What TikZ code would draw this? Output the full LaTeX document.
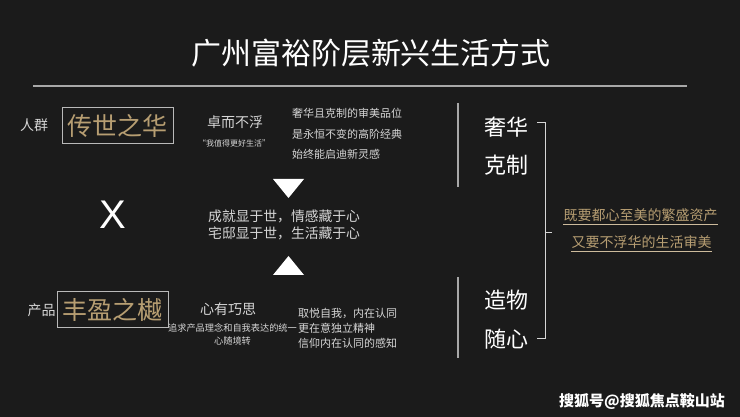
\documentclass[tikz,border=0pt]{standalone}
\usepackage{fontspec}
\setmainfont{Noto Sans CJK SC}
\definecolor{bg}{HTML}{1B1B1B}
\definecolor{gold}{HTML}{B79E72}
\definecolor{soft}{HTML}{D6D6D6}
\definecolor{linegray}{HTML}{A8A8A8}
\newcommand{\fsz}[1]{\fontsize{#1pt}{#1pt}\selectfont}
\tikzset{
  txt/.style={inner sep=0pt, text=soft},
  lbl/.style={txt, font=\fsz{14}},
  small/.style={txt, font=\fsz{11}},
  big/.style={txt, text=white, font=\fsz{22}},
  goldbox/.style={draw=linegray!80, line width=1pt, text=gold, font=\fsz{25}, minimum width=111pt, minimum height=36pt, inner sep=0pt},
  goldtxt/.style={inner sep=0pt, text=gold, font=\fsz{14}},
  uline/.style={draw=gold!70, line width=0.8pt},
  rule/.style={draw=linegray, line width=1.2pt},
}
\begin{document}
\begin{tikzpicture}[x=1pt,y=-1pt]
\fill[bg] (0,0) rectangle (740,417);
\useasboundingbox (0,0) rectangle (740,417);
% title
\node[txt, text=white, font=\fsz{30}] (title) at (371,53) {广州富裕阶层新兴生活方式};
\coordinate (hl) at (33,86);
\coordinate (hr) at (687,86);
\draw[rule] (hl) -- (hr);
% top left group
\node[lbl] (renqun) at (34,125) {人群};
\node[goldbox] (box1) at (117.5,125.5) {传世之华};
\node[lbl] (zhuo) at (235,122) {卓而不浮};
\node[txt, font=\fsz{8}] (quote1) at (234,143) {“我值得更好生活”};
\node[small, anchor=west] (t1) at (292,113) {奢华且克制的审美品位};
\node[small, anchor=west] (t2) at (292,134) {是永恒不变的高阶经典};
\node[small, anchor=west] (t3) at (292,154) {始终能启迪新灵感};
% X
\node[txt, text=white, font=\fontspec{Liberation Sans}\fsz{40}] (cross) at (113,215) {X};
% triangles
\fill[white] (273,179) -- (304,179) -- (288.5,198) -- cycle;
\fill[white] (273,275) -- (304,275) -- (288.5,256) -- cycle;
\node[lbl, anchor=west, font=\fsz{13.8}] (m1) at (208,216) {成就显于世，情感藏于心};
\node[lbl, anchor=west, font=\fsz{13.8}] (m2) at (208,233) {宅邸显于世，生活藏于心};
% bottom left group
\node[lbl] (chanpin) at (41.5,310) {产品};
\node[goldbox] (box2) at (112.5,309.5) {丰盈之樾};
\node[lbl] (xin) at (228,309) {心有巧思};
\node[txt, font=\fsz{9.2}] (b1) at (232.5,328) {追求产品理念和自我表达的统一};
\node[txt, font=\fsz{9.2}] (b2) at (232.5,341) {心随境转};
\node[small, anchor=west] (r1) at (298,313) {取悦自我，内在认同};
\node[small, anchor=west] (r2) at (298,328) {更在意独立精神};
\node[small, anchor=west] (r3) at (298,343) {信仰内在认同的感知};
% right side
\coordinate (v1a) at (458,103);
\coordinate (v1b) at (458,187);
\coordinate (v2a) at (458,277);
\coordinate (v2b) at (458,358);
\draw[rule, line width=1.5pt] (v1a) -- (v1b);
\draw[rule, line width=1.5pt] (v2a) -- (v2b);
\node[big] (she) at (506,127) {奢华};
\node[big] (ke) at (506,165) {克制};
\node[big] (zao) at (506,300) {造物};
\node[big] (sui) at (506,339) {随心};
% bracket
\coordinate (bt) at (537,123);
\coordinate (bb) at (537,338);
\coordinate (bm) at (545,233);
\coordinate (bmt) at (552,233);
\draw[draw=soft, line width=1pt] (bt) -- ++(8,0) -- (545,338) -- (bb);
\draw[draw=soft, line width=1pt] (bm) -- (bmt);
% gold text
\node[goldtxt] (g1) at (640.5,215) {既要都心至美的繁盛资产};
\node[goldtxt] (g2) at (641.5,242) {又要不浮华的生活审美};
\draw[uline] ([yshift=-3pt]g1.south west) -- ([yshift=-3pt]g1.south east);
\draw[uline] ([yshift=-3pt]g2.south west) -- ([yshift=-3pt]g2.south east);
% watermark
\node[txt, text=white, font=\fsz{15}\bfseries] (wm) at (642,401) {搜狐号@搜狐焦点鞍山站};
\end{tikzpicture}
\end{document}
